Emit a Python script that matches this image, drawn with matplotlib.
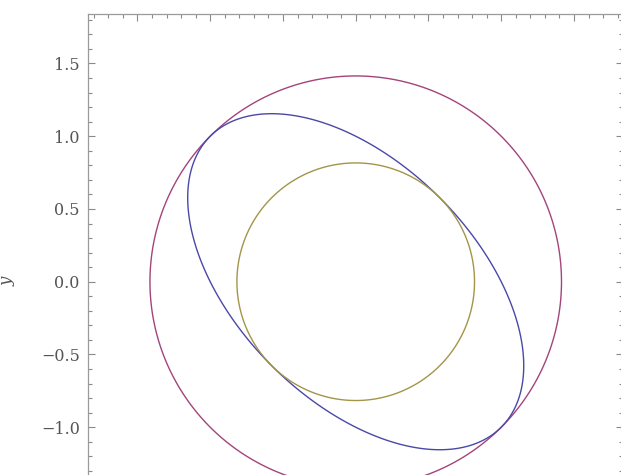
"""Circle / ellipse / circle implicit curves, Mathematica-style frame."""

import matplotlib

matplotlib.use("Agg")
import matplotlib.pyplot as plt
import numpy as np
from matplotlib.ticker import FuncFormatter, MultipleLocator

# implicit curves:  a*x^2 + b*x*y + c*y^2 = level
curve_names = ["outer circle", "ellipse", "inner circle"]
coef_a = [1.0, 1.0, 1.0]
coef_b = [0.0, 1.0, 0.0]
coef_c = [1.0, 1.0, 1.0]
levels = [2.0, 1.0, 2.0 / 3.0]
colors = ["#A3447A", "#4A48A8", "#A39548"]

x_range = (-1.84, 1.84)
y_range = (-1.84, 1.84)
major_step = 0.5
minor_step = 0.1
y_label = "y"
label_min = -1.25  # lower labels fall outside the cropped picture


def tick_text(v, _pos):
    if v < label_min:
        return ""
    return f"{v:.1f}".replace("-", "\u2212")


def main() -> None:
    fig = plt.figure(figsize=(6.21, 4.75), dpi=100)
    w_px, h_px = 621.0, 475.0
    scale = 145.5  # px per data unit
    ax_w = (x_range[1] - x_range[0]) * scale
    ax_h = (y_range[1] - y_range[0]) * scale
    left, top = 88.0, 14.0
    ax = fig.add_axes([left / w_px, 1 - (top + ax_h) / h_px, ax_w / w_px, ax_h / h_px])

    xs = np.linspace(x_range[0], x_range[1], 900)
    ys = np.linspace(y_range[0], y_range[1], 900)
    gx, gy = np.meshgrid(xs, ys)
    for a, b, c, lev, col in zip(coef_a, coef_b, coef_c, levels, colors):
        f = a * gx**2 + b * gx * gy + c * gy**2
        ax.contour(gx, gy, f, levels=[lev], colors=[col], linewidths=1.0)

    ax.set_xlim(*x_range)
    ax.set_ylim(*y_range)
    ax.set_aspect("equal", adjustable="box")

    ax.xaxis.set_major_locator(MultipleLocator(major_step))
    ax.yaxis.set_major_locator(MultipleLocator(major_step))
    ax.xaxis.set_minor_locator(MultipleLocator(minor_step))
    ax.yaxis.set_minor_locator(MultipleLocator(minor_step))
    ax.tick_params(which="both", direction="in", top=True, right=True,
                   color="#8a8a8a", width=0.8)
    ax.tick_params(which="major", length=5, labelsize=11.5, labelcolor="#555555", pad=6)
    ax.tick_params(which="minor", length=3)
    ax.tick_params(axis="x", labelbottom=False)
    ax.yaxis.set_major_formatter(FuncFormatter(tick_text))
    for lab in ax.get_yticklabels():
        lab.set_family("DejaVu Serif")
    for spine in ax.spines.values():
        spine.set_color("#9a9a9a")
        spine.set_linewidth(0.9)

    ax.set_ylabel(y_label, fontsize=12, color="#555555", family="DejaVu Serif",
                  style="italic", labelpad=18)

    fig.savefig("out.png", dpi=100)


if __name__ == "__main__":
    main()
